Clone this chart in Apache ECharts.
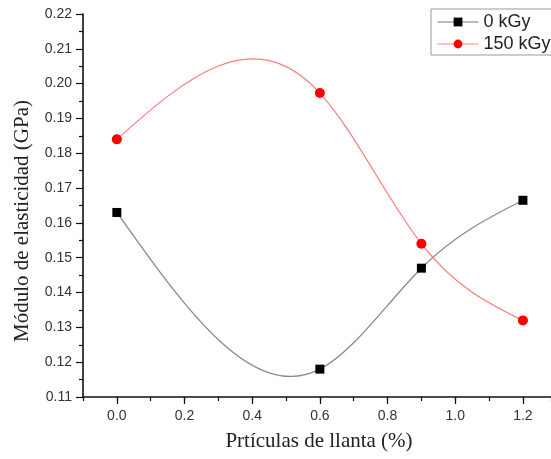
<!DOCTYPE html>
<html><head><meta charset="utf-8">
<script src="https://cdn.jsdelivr.net/npm/echarts@6/dist/echarts.min.js"></script>
<style>html,body{margin:0;padding:0;background:#fff}#c{width:551px;height:459px}</style>
</head><body><div id="c"></div>
<script>
// ---- data ----
const xValues = [0.0, 0.6, 0.9, 1.2];
const kGy0 = [0.163, 0.118, 0.147, 0.1665];
const kGy150 = [0.184, 0.1973, 0.154, 0.132];
const seriesNames = ['0 kGy', '150 kGy'];
const xTickLabels = [0.0, 0.2, 0.4, 0.6, 0.8, 1.0, 1.2];
const yTickLabels = [0.11, 0.12, 0.13, 0.14, 0.15, 0.16, 0.17, 0.18, 0.19, 0.20, 0.21, 0.22];
const xTitle = 'Prtículas de llanta (%)';
const yTitle = 'Módulo de elasticidad (GPa)';

// natural cubic spline slopes (curve style through the data points)
function splineSlopes(xs, ys) {
  const n = xs.length;
  const h = [], d = [];
  for (let i = 0; i < n - 1; i++) { h.push(xs[i+1]-xs[i]); d.push((ys[i+1]-ys[i])/h[i]); }
  const M = new Array(n).fill(0);
  const m = n - 2;
  if (m > 0) {
    const a = [], b = [], c = [], r = [];
    for (let i = 1; i <= m; i++) {
      a.push(h[i-1]); b.push(2*(h[i-1]+h[i])); c.push(h[i]); r.push(6*(d[i]-d[i-1]));
    }
    for (let i = 1; i < m; i++) {
      const w = a[i]/b[i-1];
      b[i] -= w*c[i-1]; r[i] -= w*r[i-1];
    }
    const sol = new Array(m);
    sol[m-1] = r[m-1]/b[m-1];
    for (let i = m-2; i >= 0; i--) sol[i] = (r[i]-c[i]*sol[i+1])/b[i];
    for (let i = 0; i < m; i++) M[i+1] = sol[i];
  }
  const segs = [];
  for (let i = 0; i < n - 1; i++) {
    const s0 = d[i] - h[i]*(2*M[i]+M[i+1])/6;
    const s1 = d[i] + h[i]*(M[i]+2*M[i+1])/6;
    segs.push([s0, s1]);
  }
  return segs;
}

function curveSeries(ys, color, width) {
  const segs = splineSlopes(xValues, ys);
  return {
    type: 'custom',
    z: 1,
    silent: true,
    data: xValues.map((x, i) => [x, ys[i]]),
    renderItem: function (params, api) {
      const i = params.dataIndex;
      if (i >= xValues.length - 1) return null;
      const x0 = xValues[i], x1 = xValues[i+1], y0 = ys[i], y1 = ys[i+1];
      const h = x1 - x0;
      const p0 = api.coord([x0, y0]);
      const c1 = api.coord([x0 + h/3, y0 + h/3*segs[i][0]]);
      const c2 = api.coord([x1 - h/3, y1 - h/3*segs[i][1]]);
      const p1 = api.coord([x1, y1]);
      return {
        type: 'bezierCurve',
        shape: { x1: p0[0], y1: p0[1], x2: p1[0], y2: p1[1],
                 cpx1: c1[0], cpy1: c1[1], cpx2: c2[0], cpy2: c2[1] },
        style: { stroke: color, lineWidth: width, fill: null }
      };
    }
  };
}

const xMin = -0.1, xMax = 1.283;
const chart = echarts.init(document.getElementById('c'), null, {renderer: 'canvas'});
chart.setOption({
  animation: false,
  backgroundColor: '#fff',
  grid: { left: 83, right: 0, top: 14, bottom: 62 },
  legend: {
    orient: 'vertical',
    left: 431, top: 9,
    padding: [4, 30, 2, 6],
    itemWidth: 41, itemHeight: 11, itemGap: 4,
    borderColor: '#999', borderWidth: 1, backgroundColor: '#fff',
    textStyle: { fontFamily: 'Liberation Sans, Arial', fontSize: 18, color: '#222', lineHeight: 18 },
    data: [
      { name: seriesNames[0], lineStyle: { opacity: 1, color: '#777', width: 1 } },
      { name: seriesNames[1], lineStyle: { opacity: 1, color: '#ff8080', width: 1 } }
    ]
  },
  xAxis: [{
    type: 'value', min: xMin, max: xMax, interval: 0.1,
    splitLine: { show: false },
    axisLine: { show: true, onZero: false, lineStyle: { color: '#111', width: 1.6 } },
    axisTick: { show: true, length: 4, lineStyle: { color: '#111', width: 1.2 } },
    axisLabel: {
      customValues: xTickLabels, margin: 12,
      fontFamily: 'Liberation Sans, Arial', fontSize: 14, color: '#333',
      formatter: v => v.toFixed(1)
    }
  }, {
    type: 'value', min: xMin, max: xMax, interval: 0.1, position: 'bottom', gridIndex: 0,
    splitLine: { show: false },
    axisLine: { show: false, onZero: false },
    axisTick: { show: true, customValues: xTickLabels, length: 7, lineStyle: { color: '#111', width: 1.2 } },
    axisLabel: { show: false }
  }],
  yAxis: {
    type: 'value', min: 0.11, max: 0.22, interval: 0.01,
    splitLine: { show: false },
    axisLine: { show: true, onZero: false, lineStyle: { color: '#111', width: 1.6 } },
    axisTick: { show: true, length: 7, lineStyle: { color: '#111', width: 1.2 } },
    minorTick: { show: true, splitNumber: 2, length: 4, lineStyle: { color: '#111', width: 1.2 } },
    axisLabel: {
      margin: 11,
      fontFamily: 'Liberation Sans, Arial', fontSize: 14, color: '#333',
      formatter: v => v.toFixed(2)
    }
  },
  graphic: [
    { type: 'text', silent: true, x: 319, y: 441,
      style: { text: xTitle, fontFamily: 'Liberation Serif, Times New Roman', fontSize: 21,
               fill: '#222', align: 'center', verticalAlign: 'middle' } },
    { type: 'text', silent: true, x: 22, y: 221, rotation: Math.PI/2,
      style: { text: yTitle, fontFamily: 'Liberation Serif, Times New Roman', fontSize: 21,
               fill: '#222', align: 'center', verticalAlign: 'middle' } }
  ],
  series: [
    curveSeries(kGy0, '#8a8a8a', 1.3),
    curveSeries(kGy150, '#ff7a7a', 1.2),
    {
      name: seriesNames[0], type: 'line', z: 3,
      data: xValues.map((x, i) => [x, kGy0[i]]),
      symbol: 'rect', symbolSize: 9, showSymbol: true,
      itemStyle: { color: '#000' },
      lineStyle: { opacity: 0, color: '#777' },
      emphasis: { disabled: true }
    },
    {
      name: seriesNames[1], type: 'line', z: 3,
      data: xValues.map((x, i) => [x, kGy150[i]]),
      symbol: 'circle', symbolSize: 10, showSymbol: true,
      itemStyle: { color: '#ff0000' },
      lineStyle: { opacity: 0, color: '#ff8080' },
      emphasis: { disabled: true }
    }
  ]
});
</script></body></html>
